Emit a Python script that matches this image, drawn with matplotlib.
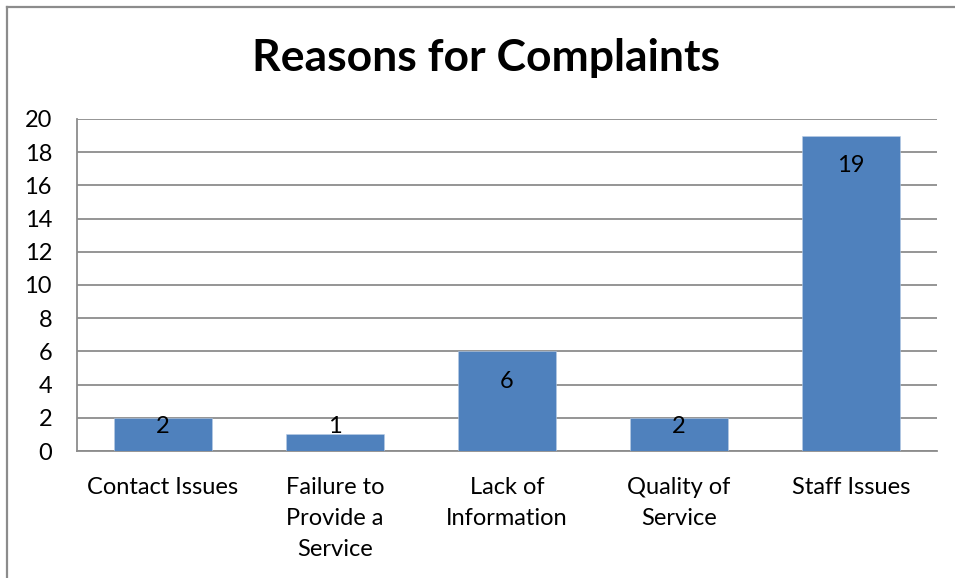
import matplotlib
matplotlib.use("Agg")
import matplotlib.pyplot as plt
from matplotlib.lines import Line2D

categories = ["Contact Issues", "Failure to\nProvide a\nService", "Lack of\nInformation",
              "Quality of\nService", "Staff Issues"]
values = [2, 1, 6, 2, 19]
yticks = [0, 2, 4, 6, 8, 10, 12, 14, 16, 18, 20]
title = "Reasons for Complaints"

FONT = "Lato"
FS = 17
W, H = 955, 578
fig = plt.figure(figsize=(W / 100, H / 100), dpi=100)
ax = fig.add_axes([77 / W, 1 - 451 / H, (937 - 77) / W, (451 - 119) / H])

x = range(len(categories))
ax.bar(x, values, width=0.57, color="#4F81BD", edgecolor="#B9CDE5", linewidth=0.4, zorder=3)
ax.set_xlim(-0.5, len(categories) - 0.5)
ax.set_ylim(0, 20)
ax.set_yticks(yticks)
ax.set_yticklabels([str(t) for t in yticks], fontfamily=FONT, fontsize=FS)
ax.set_xticks(list(x))
ax.set_xticklabels(categories, fontfamily=FONT, fontsize=FS, linespacing=1.57)
ax.tick_params(axis="both", length=0, colors="black")
ax.tick_params(axis="x", pad=19)
ax.tick_params(axis="y", pad=18)
ax.yaxis.grid(True, color="#8C8C8C", linewidth=1.3, zorder=0)
ax.set_axisbelow(True)
for side in ["top", "right"]:
    ax.spines[side].set_visible(False)
for side in ["left", "bottom"]:
    ax.spines[side].set_color("#8C8C8C")
    ax.spines[side].set_linewidth(1.3)

# data labels: inside end, but kept above a minimum height for short bars
for xi, v in zip(x, values):
    ax.annotate(str(v), xy=(xi, max(v, 3.3)), xytext=(0, -30), textcoords="offset pixels",
                ha="center", va="center", fontfamily=FONT, fontsize=FS, color="black", zorder=4)

fig.text(486 / W, 1 - 58 / H, title, ha="center", va="center", fontfamily=FONT,
         fontweight="bold", fontsize=32)

# outer chart border (only top and left visible in the crop)
fig.add_artist(Line2D([7 / W, 7 / W], [0, 1 - 7 / H], color="#8C8C8C", linewidth=1.6,
                      transform=fig.transFigure))
fig.add_artist(Line2D([7 / W, 1], [1 - 7 / H, 1 - 7 / H], color="#8C8C8C", linewidth=1.6,
                      transform=fig.transFigure))

fig.savefig("out.png", dpi=100)
